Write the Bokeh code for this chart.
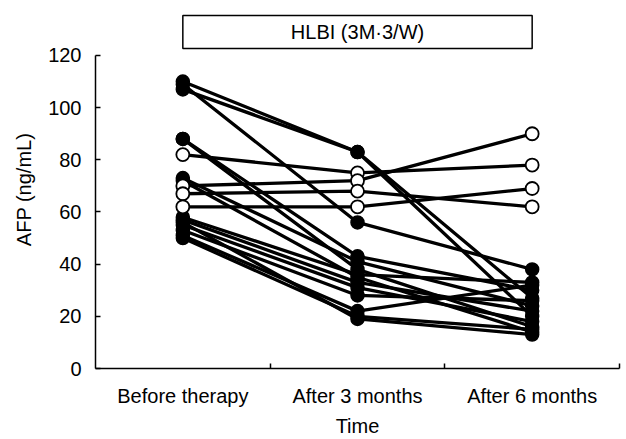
from bokeh.plotting import figure
from bokeh.models import Range1d, FixedTicker, BoxAnnotation, Label
from bokeh.embed import file_html
from bokeh.resources import INLINE

# ---- data ----
time_labels = ["Before therapy", "After 3 months", "After 6 months"]
y_ticks = [0, 20, 40, 60, 80, 100, 120]
panel_title = "HLBI (3M·3/W)"

# patients whose AFP fell (filled circles)
filled_before = [110, 109, 107, 88, 88, 73, 72, 58, 57, 55, 53, 51, 50, 56]
filled_3m     = [83, 56, 83, 43, 38, 41, 35, 36, 33, 31, 28, 22, 20, 19]
filled_6m     = [27, 38, 20, 30, 16, 24, 14, 33, 22, 18, 26, 32, 15, 13]

# patients whose AFP did not fall (open circles)
open_before = [82, 70, 67, 62]
open_3m     = [75, 72, 68, 62]
open_6m     = [78, 90, 62, 69]

FONT = "Liberation Sans"
FS = "20px"

x_pos = [i + 0.5 for i in range(len(time_labels))]

p = figure(width=626, height=439, output_backend="svg", toolbar_location=None,
           x_range=Range1d(0, 3), y_range=Range1d(0, 137.25),
           min_border_left=95, min_border_right=7, min_border_top=10, min_border_bottom=71)
p.outline_line_color = None
p.xgrid.grid_line_color = None
p.ygrid.grid_line_color = None
p.background_fill_color = "white"
p.border_fill_color = "white"

# lines
xs, ys = [], []
for b, m, s in zip(filled_before, filled_3m, filled_6m):
    xs.append(x_pos); ys.append([b, m, s])
for b, m, s in zip(open_before, open_3m, open_6m):
    xs.append(x_pos); ys.append([b, m, s])
p.multi_line(xs=xs, ys=ys, line_color="black", line_width=3.3)

# markers
fx = [x_pos[0]] * len(filled_before) + [x_pos[1]] * len(filled_3m) + [x_pos[2]] * len(filled_6m)
fy = filled_before + filled_3m + filled_6m
p.scatter(fx, fy, size=13, marker="circle", fill_color="black", line_color="black", line_width=1.5)

ox = [x_pos[0]] * len(open_before) + [x_pos[1]] * len(open_3m) + [x_pos[2]] * len(open_6m)
oy = open_before + open_3m + open_6m
p.scatter(ox, oy, size=13, marker="circle", fill_color="white", line_color="black", line_width=1.8)

# axes
xa = p.xaxis[0]
xa.ticker = FixedTicker(ticks=x_pos, minor_ticks=[1, 2, 3])
xa.major_label_overrides = {x: lab for x, lab in zip(x_pos, time_labels)}
xa.major_tick_line_color = None
xa.minor_tick_in = 5
xa.minor_tick_out = 0
xa.minor_tick_line_color = "black"
xa.minor_tick_line_width = 1.5
xa.bounds = (0, 3)
xa.axis_line_width = 1.5
xa.axis_label = "Time"
xa.major_label_standoff = 10
xa.axis_label_standoff = 5

ya = p.yaxis[0]
ya.ticker = FixedTicker(ticks=y_ticks, minor_ticks=[])
ya.major_tick_in = 5
ya.major_tick_out = 0
ya.major_tick_line_width = 1.5
ya.major_tick_line_color = "black"
ya.bounds = (0, 120)
ya.axis_line_width = 1.5
ya.axis_label = "AFP (ng/mL)"
ya.major_label_standoff = 14
ya.axis_label_standoff = 10

for ax in (xa, ya):
    ax.major_label_text_font = FONT
    ax.major_label_text_font_size = FS
    ax.major_label_text_color = "black"
    ax.axis_label_text_font = FONT
    ax.axis_label_text_font_size = FS
    ax.axis_label_text_font_style = "normal"
    ax.axis_label_text_color = "black"
    ax.axis_line_color = "black"

# title box
p.add_layout(BoxAnnotation(left=0.5, right=2.5, bottom=122.7, top=135.3,
                           fill_color="white", fill_alpha=1.0,
                           line_color="black", line_alpha=1.0, line_width=1.5))
p.add_layout(Label(x=1.5, y=129, text=panel_title, text_align="center",
                   text_baseline="middle", text_font=FONT, text_font_size=FS,
                   text_color="black"))

open("out.html", "w").write(file_html(p, INLINE))
